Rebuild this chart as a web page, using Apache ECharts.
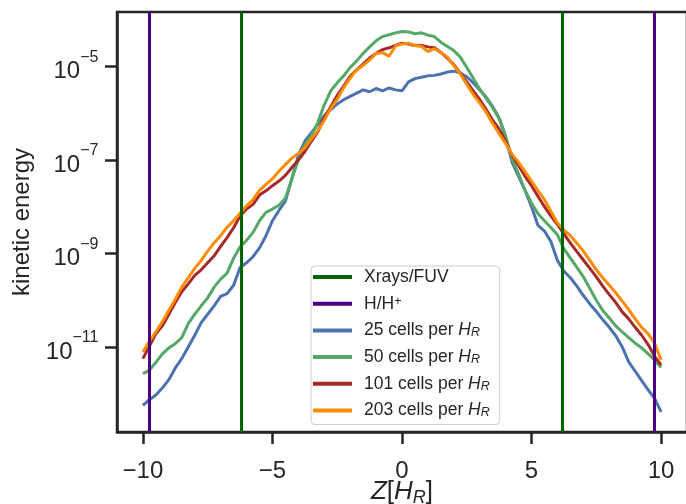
<!DOCTYPE html>
<html>
<head>
<meta charset="utf-8">
<script src="https://cdn.jsdelivr.net/npm/echarts@6/dist/echarts.min.js"></script>
<style>
  html, body { margin: 0; padding: 0; background: #ffffff; }
  #chart { width: 686px; height: 504px; }
</style>
</head>
<body>
<div id="chart"></div>
<script>
// Position along Z in units of H_R
var zPos = [-10,-9.75,-9.5,-9.25,-9,-8.75,-8.5,-8.25,-8,-7.75,-7.5,-7.25,-7,-6.75,-6.5,-6.25,-6,-5.75,-5.5,-5.25,-5,-4.75,-4.5,-4.25,-4,-3.75,-3.5,-3.25,-3,-2.75,-2.5,-2.25,-2,-1.75,-1.5,-1.25,-1,-0.75,-0.5,-0.25,0,0.25,0.5,0.75,1,1.25,1.5,1.75,2,2.25,2.5,2.75,3,3.25,3.5,3.75,4,4.25,4.5,4.75,5,5.25,5.5,5.75,6,6.25,6.5,6.75,7,7.25,7.5,7.75,8,8.25,8.5,8.75,9,9.25,9.5,9.75,10];

// log10(kinetic energy) for each resolution
var logKE25 = [-12.25,-12.13,-12.03,-11.88,-11.7,-11.45,-11.25,-11.0,-10.75,-10.48,
  -10.3,-10.12,-9.92,-9.86,-9.68,-9.3,-9.2,-9.07,-8.88,-8.62,
  -8.3,-8.08,-7.88,-7.4,-6.9,-6.6,-6.42,-6.24,-6.05,-5.92,
  -5.8,-5.71,-5.64,-5.57,-5.5,-5.54,-5.47,-5.52,-5.46,-5.5,
  -5.52,-5.33,-5.26,-5.23,-5.2,-5.19,-5.16,-5.12,-5.1,-5.14,
  -5.22,-5.35,-5.5,-5.66,-5.86,-6.1,-6.5,-7.05,-7.35,-7.65,
  -8.0,-8.4,-8.52,-8.75,-9.15,-9.38,-9.52,-9.7,-9.9,-10.08,
  -10.24,-10.42,-10.58,-10.76,-11.0,-11.32,-11.52,-11.72,-11.92,-12.1,
  -12.39];
var logKE50 = [-11.57,-11.5,-11.33,-11.15,-11.02,-10.93,-10.8,-10.5,-10.3,-10.12,
  -9.95,-9.72,-9.55,-9.42,-9.1,-8.86,-8.72,-8.55,-8.3,-8.12,
  -8.05,-7.97,-7.82,-7.4,-7.0,-6.68,-6.48,-6.2,-5.82,-5.52,
  -5.35,-5.2,-5.02,-4.88,-4.72,-4.58,-4.45,-4.36,-4.32,-4.28,
  -4.25,-4.26,-4.3,-4.28,-4.33,-4.36,-4.48,-4.57,-4.66,-4.8,
  -5.02,-5.25,-5.48,-5.68,-5.88,-6.12,-6.5,-6.98,-7.3,-7.65,
  -7.92,-8.15,-8.3,-8.45,-8.6,-8.9,-9.1,-9.3,-9.5,-9.75,
  -10.0,-10.22,-10.38,-10.55,-10.68,-10.8,-10.92,-11.02,-11.15,-11.28,
  -11.44];
var logKE101 = [-11.25,-10.98,-10.72,-10.55,-10.3,-10.05,-9.82,-9.65,-9.47,-9.35,
  -9.2,-9.05,-8.85,-8.66,-8.45,-8.2,-8.05,-7.95,-7.75,-7.66,
  -7.55,-7.45,-7.33,-7.16,-7.0,-6.82,-6.6,-6.4,-6.1,-5.86,
  -5.62,-5.42,-5.21,-5.07,-4.95,-4.82,-4.72,-4.64,-4.6,-4.55,
  -4.5,-4.52,-4.55,-4.55,-4.58,-4.6,-4.7,-4.82,-4.96,-5.14,
  -5.33,-5.52,-5.71,-5.92,-6.15,-6.34,-6.6,-6.9,-7.12,-7.35,
  -7.55,-7.78,-8.0,-8.2,-8.38,-8.58,-8.78,-8.96,-9.14,-9.32,
  -9.5,-9.7,-9.88,-10.05,-10.25,-10.4,-10.58,-10.75,-10.95,-11.2,
  -11.39];
var logKE203 = [-11.11,-10.88,-10.68,-10.46,-10.22,-9.98,-9.72,-9.52,-9.32,-9.15,
  -8.95,-8.77,-8.62,-8.44,-8.3,-8.14,-7.98,-7.85,-7.65,-7.52,
  -7.4,-7.24,-7.1,-6.96,-6.86,-6.74,-6.55,-6.38,-6.15,-5.9,
  -5.7,-5.45,-5.25,-5.07,-4.98,-4.86,-4.72,-4.7,-4.78,-4.56,
  -4.52,-4.5,-4.55,-4.57,-4.68,-4.62,-4.7,-4.8,-4.98,-5.16,
  -5.38,-5.6,-5.78,-5.98,-6.22,-6.44,-6.65,-6.88,-7.05,-7.25,
  -7.45,-7.66,-7.85,-8.1,-8.35,-8.5,-8.62,-8.78,-8.95,-9.15,
  -9.35,-9.52,-9.68,-9.84,-10.02,-10.2,-10.4,-10.58,-10.72,-10.92,
  -11.28];

// Vertical markers
var xraysZ = [-6.2, 6.2];
var hhZ = [-9.75, 9.75];

// Ticks
var xTicks = [-10, -5, 0, 5, 10];
var yTickExponents = [-11, -9, -7, -5];

var seriesNames = ['Xrays/FUV', 'H/H+', '25 cells per HR', '50 cells per HR', '101 cells per HR', '203 cells per HR'];
var colors = ['#006400', '#4b0082', '#4c72b0', '#55a868', '#a52a2a', '#ff8c00'];

var FONT = '"Liberation Sans", Arial, sans-serif';
var INK = '#262626';

function pairs(vals) {
  return zPos.map(function (z, i) { return [z, vals[i]]; });
}
function vline(name, color, zs) {
  return {
    name: name, type: 'line', data: [], color: color, z: 1,
    lineStyle: { color: color, width: 3 },
    markLine: {
      silent: true, symbol: ['none', 'none'], label: { show: false },
      lineStyle: { color: color, width: 3, type: 'solid' },
      data: zs.map(function (z) { return { xAxis: z }; })
    }
  };
}
function curve(name, color, vals) {
  return {
    name: name, type: 'line', data: pairs(vals), color: color, z: 3,
    showSymbol: false, symbol: 'none',
    lineStyle: { color: color, width: 3 }
  };
}

var chart = echarts.init(document.getElementById('chart'), null, { renderer: 'canvas' });
chart.setOption({
  animation: false,
  backgroundColor: '#ffffff',
  textStyle: { fontFamily: FONT },
  grid: {
    left: 117, top: 12, width: 570, height: 420, containLabel: false, outerBoundsMode: 'none',
    show: true, borderColor: INK, borderWidth: 2.5, backgroundColor: 'transparent'
  },
  xAxis: {
    type: 'value', min: -11, max: 11,
    axisLine: { show: true, onZero: false, lineStyle: { color: INK, width: 2.5 } },
    axisTick: { show: true, length: 12, lineStyle: { color: INK, width: 2.5 }, customValues: xTicks },
    axisLabel: {
      customValues: xTicks, margin: 27, fontSize: 24, color: INK, fontFamily: FONT,
      formatter: function (v) { return v < 0 ? '\u2212' + Math.abs(v) : String(v); }
    },
    splitLine: { show: false },
    name: '{i|Z}{n|[}{i|H}{sub|R}{n|]}',
    nameLocation: 'middle', nameGap: 47, nameMoveOverlap: false,
    nameTextStyle: {
      rich: {
        i: { fontSize: 26, fontStyle: 'italic', color: INK, fontFamily: FONT, lineHeight: 28, verticalAlign: 'top' },
        n: { fontSize: 26, color: INK, fontFamily: FONT, lineHeight: 28, verticalAlign: 'top' },
        sub: { fontSize: 18, fontStyle: 'italic', color: INK, fontFamily: FONT, lineHeight: 16, verticalAlign: 'bottom' }
      }
    }
  },
  yAxis: {
    type: 'value', min: -12.82, max: -3.834,
    axisLine: { show: true, onZero: false, lineStyle: { color: INK, width: 2.5 } },
    axisTick: { show: true, length: 12, lineStyle: { color: INK, width: 2.5 }, customValues: yTickExponents },
    axisLabel: {
      customValues: yTickExponents, margin: 18,
      formatter: function (v) { return '{b|10}{s|\u2212' + Math.abs(v) + '}{p| }'; },
      rich: {
        b: { fontSize: 24, color: INK, fontFamily: FONT, lineHeight: 24, verticalAlign: 'bottom' },
        s: { fontSize: 16, color: INK, fontFamily: FONT, lineHeight: 16, verticalAlign: 'top' },
        p: { fontSize: 2, color: INK, fontFamily: FONT, lineHeight: 34, verticalAlign: 'middle' }
      }
    },
    splitLine: { show: false },
    name: 'kinetic energy', nameLocation: 'middle', nameGap: 83, nameMoveOverlap: false,
    nameTextStyle: { fontSize: 24, color: INK, fontFamily: FONT }
  },
  legend: {
    orient: 'vertical', left: 311, top: 266,
    data: seriesNames,
    icon: 'rect', itemWidth: 39, itemHeight: 4, itemGap: 8.7,
    backgroundColor: 'rgba(255,255,255,0.8)', borderColor: '#cccccc', borderWidth: 1, borderRadius: 4,
    padding: [2, 10, 5, 2],
    formatter: function (name) {
      if (name === 'H/H+') return '{t|H/H}{sup|+}';
      if (name.slice(-2) === 'HR') return '{t|' + name.slice(0, -2) + '}{i|H}{sub|R}';
      return '{t|' + name + '}';
    },
    textStyle: {
      color: INK, fontSize: 17, fontFamily: FONT, padding: [0, 0, 0, 7],
      rich: {
        t: { fontSize: 17.5, color: INK, fontFamily: FONT, lineHeight: 18 },
        i: { fontSize: 17.5, fontStyle: 'italic', color: INK, fontFamily: FONT, lineHeight: 18 },
        sub: { fontSize: 12.5, fontStyle: 'italic', color: INK, fontFamily: FONT, lineHeight: 11, verticalAlign: 'bottom' },
        sup: { fontSize: 12.5, color: INK, fontFamily: FONT, lineHeight: 12, verticalAlign: 'top' }
      }
    }
  },
  series: [
    vline(seriesNames[0], colors[0], xraysZ),
    vline(seriesNames[1], colors[1], hhZ),
    curve(seriesNames[2], colors[2], logKE25),
    curve(seriesNames[3], colors[3], logKE50),
    curve(seriesNames[4], colors[4], logKE101),
    curve(seriesNames[5], colors[5], logKE203)
  ]
});
</script>
</body>
</html>
